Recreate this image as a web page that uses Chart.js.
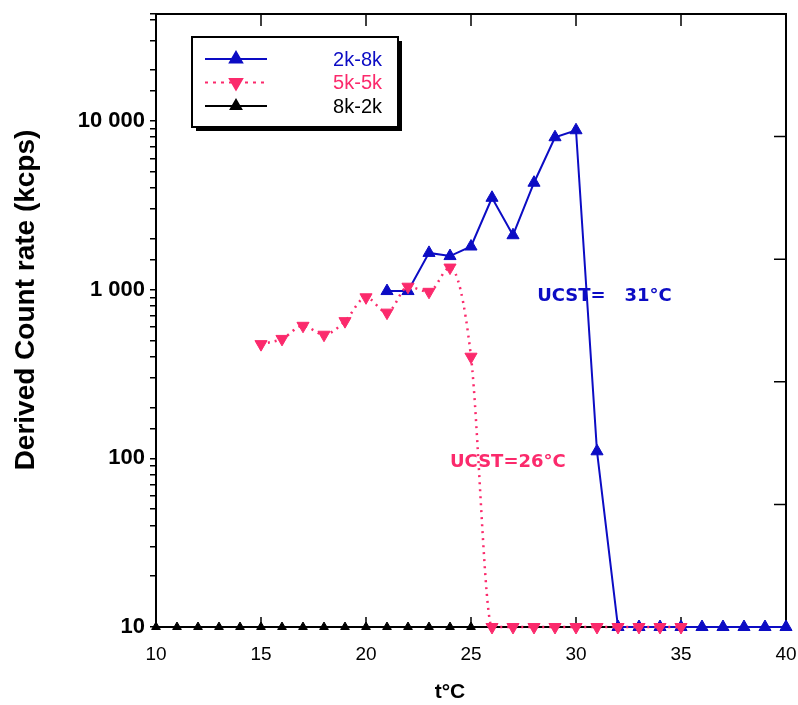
<!DOCTYPE html>
<html>
<head>
<meta charset="utf-8">
<script src="https://cdn.jsdelivr.net/npm/chart.js@4.4.1/dist/chart.umd.min.js"></script>
<style>
  html, body { margin: 0; padding: 0; background: #fff; }
  #wrap { width: 798px; height: 705px; }
</style>
</head>
<body>
<div id="wrap"><canvas id="chart" width="798" height="705"></canvas></div>
<script>
// temperatures (°C) and derived count rates (kcps)
const temps2k8k = [21, 22, 23, 24, 25, 26, 27, 28, 29, 30, 31, 32, 33, 34, 35, 36, 37, 38, 39, 40];
const rate2k8k  = [980, 980, 1650, 1580, 1800, 3500, 2100, 4300, 8000, 8800, 110, 10, 10, 10, 10, 10, 10, 10, 10, 10];

const temps5k5k = [15, 16, 17, 18, 19, 20, 21, 22, 23, 24, 25, 26, 27, 28, 29, 30, 31, 32, 33, 34, 35];
const rate5k5k  = [475, 510, 610, 540, 650, 900, 730, 1040, 970, 1350, 400, 10, 10, 10, 10, 10, 10, 10, 10, 10, 10];

const temps8k2k = [10, 11, 12, 13, 14, 15, 16, 17, 18, 19, 20, 21, 22, 23, 24, 25];
const rate8k2k  = [10, 10, 10, 10, 10, 10, 10, 10, 10, 10, 10, 10, 10, 10, 10, 10];

const yLabelTicks = [10, 100, 1000, 10000];

const blue = '#0c0cc4';
const pink = '#fb2a6c';

const toPoints = (xs, ys) => xs.map((x, i) => ({ x: x, y: ys[i] }));
const spaced = v => String(v).replace(/\B(?=(\d{3})+(?!\d))/g, ' ');

// frame, inward ticks, titles, notes and boxed legend
const decor = {
    id: 'decor',
    beforeDatasetsDraw(chart) {
        const { ctx, chartArea: a, scales } = chart;
        ctx.save();
        ctx.strokeStyle = '#000';
        ctx.lineWidth = 2;
        ctx.strokeRect(a.left, a.top, a.right - a.left, a.bottom - a.top);

        ctx.lineWidth = 1.5;
        ctx.beginPath();
        scales.x.ticks.forEach(t => {
            if (t.value <= scales.x.min || t.value >= scales.x.max) return;
            const px = scales.x.getPixelForValue(t.value);
            ctx.moveTo(px, a.top); ctx.lineTo(px, a.top + 12);
            ctx.moveTo(px, a.bottom); ctx.lineTo(px, a.bottom - 10);
        });
        scales.y2.ticks.forEach(t => {
            if (t.value <= scales.y2.min || t.value >= scales.y2.max) return;
            const py = scales.y2.getPixelForValue(t.value);
            ctx.moveTo(a.right, py); ctx.lineTo(a.right - 12, py);
        });
        ctx.stroke();
        ctx.restore();
    },
    afterDraw(chart) {
        const { ctx, chartArea: a, scales } = chart;
        ctx.save();

        // axis titles
        ctx.fillStyle = '#000';
        ctx.textAlign = 'center';
        ctx.textBaseline = 'middle';
        ctx.font = 'bold 21px "Liberation Sans", Arial, sans-serif';
        ctx.fillText('t°C', 450, 692);
        ctx.save();
        ctx.translate(26, 300);
        ctx.rotate(-Math.PI / 2);
        ctx.font = 'bold 28px "Liberation Sans", Arial, sans-serif';
        ctx.fillText('Derived Count rate (kcps)', 0, 0);
        ctx.restore();

        // notes
        ctx.textAlign = 'left';
        ctx.font = 'bold 18px "DejaVu Sans", Verdana, sans-serif';
        ctx.fillStyle = blue;
        ctx.fillText('UCST=   31°C', scales.x.getPixelForValue(28.15), scales.y.getPixelForValue(916));
        ctx.fillStyle = pink;
        ctx.fillText('UCST=26°C', scales.x.getPixelForValue(24.0), scales.y.getPixelForValue(95));

        // legend
        const lx = a.left + 36, ly = a.top + 23, lw = 206, lh = 90;
        ctx.fillStyle = '#000';
        ctx.fillRect(lx + 4, ly + 4, lw, lh);
        ctx.fillStyle = '#fff';
        ctx.fillRect(lx, ly, lw, lh);
        ctx.strokeStyle = '#000';
        ctx.lineWidth = 2;
        ctx.strokeRect(lx, ly, lw, lh);

        const rows = [
            { text: '2k-8k', color: blue, dash: [], rot: 0, r: 7 },
            { text: '5k-5k', color: pink, dash: [3, 5], rot: 180, r: 7 },
            { text: '8k-2k', color: '#000', dash: [], rot: 0, r: 6 }
        ];
        ctx.font = '20px "Liberation Sans", Arial, sans-serif';
        ctx.textAlign = 'right';
        rows.forEach((row, i) => {
            const y = ly + 22 + i * 23.5;
            ctx.strokeStyle = row.color;
            ctx.lineWidth = 2;
            ctx.setLineDash(row.dash);
            ctx.beginPath();
            ctx.moveTo(lx + 13, y); ctx.lineTo(lx + 75, y);
            ctx.stroke();
            ctx.setLineDash([]);
            ctx.fillStyle = row.color;
            Chart.helpers.drawPoint(ctx, { pointStyle: 'triangle', rotation: row.rot, radius: row.r, borderWidth: 1 }, lx + 44, y);
            ctx.fillText(row.text, lx + 190, y + 1);
        });
        ctx.restore();
    }
};

const ctx = document.getElementById('chart').getContext('2d');
new Chart(ctx, {
    type: 'line',
    data: {
        datasets: [
            {
                label: '5k-5k',
                data: toPoints(temps5k5k, rate5k5k),
                borderColor: pink,
                backgroundColor: pink,
                borderWidth: 2.5,
                borderDash: [2, 5],
                pointStyle: 'triangle',
                rotation: 180,
                pointRadius: 7,
                pointBorderWidth: 1,
                cubicInterpolationMode: 'monotone',
                clip: false,
                order: 0
            },
            {
                label: '2k-8k',
                data: toPoints(temps2k8k, rate2k8k),
                borderColor: blue,
                backgroundColor: blue,
                borderWidth: 2,
                pointStyle: 'triangle',
                pointRadius: 7,
                pointBorderWidth: 1,
                tension: 0,
                clip: false,
                order: 1
            },
            {
                label: '8k-2k',
                data: toPoints(temps8k2k, rate8k2k),
                borderColor: '#000',
                backgroundColor: '#000',
                borderWidth: 2,
                pointStyle: 'triangle',
                pointRadius: 5,
                pointBorderWidth: 1,
                clip: false,
                order: 2
            }
        ]
    },
    options: {
        responsive: false,
        animation: false,
        events: [],
        layout: { padding: { top: 14, right: 12, left: 0, bottom: 0 } },
        plugins: { legend: { display: false }, tooltip: { enabled: false } },
        scales: {
            x: {
                type: 'linear',
                min: 10,
                max: 40,
                ticks: {
                    stepSize: 5,
                    color: '#000',
                    padding: 8,
                    font: { family: '"Liberation Sans", Arial, sans-serif', size: 19 }
                },
                grid: { display: false },
                border: { display: false },
                afterFit: s => {
                    s.height = 78;
                    s.paddingLeft = 0;
                    s.paddingRight = 0;
                }
            },
            y: {
                type: 'logarithmic',
                min: 10,
                max: 43000,
                ticks: {
                    autoSkip: false,
                    color: '#000',
                    padding: 5,
                    font: { family: '"Liberation Sans", Arial, sans-serif', size: 22, weight: 'bold' },
                    callback: v => yLabelTicks.includes(v) ? spaced(v) : ''
                },
                grid: { drawOnChartArea: false, tickLength: 6, color: '#000', lineWidth: 1.5 },
                border: { display: false },
                afterFit: s => {
                    s.width = 156;
                    s.paddingTop = 0;
                    s.paddingBottom = 0;
                }
            },
            y2: {
                type: 'linear',
                display: false,
                min: 0,
                max: 5,
                ticks: { stepSize: 1 }
            }
        }
    },
    plugins: [decor]
});
</script>
</body>
</html>
